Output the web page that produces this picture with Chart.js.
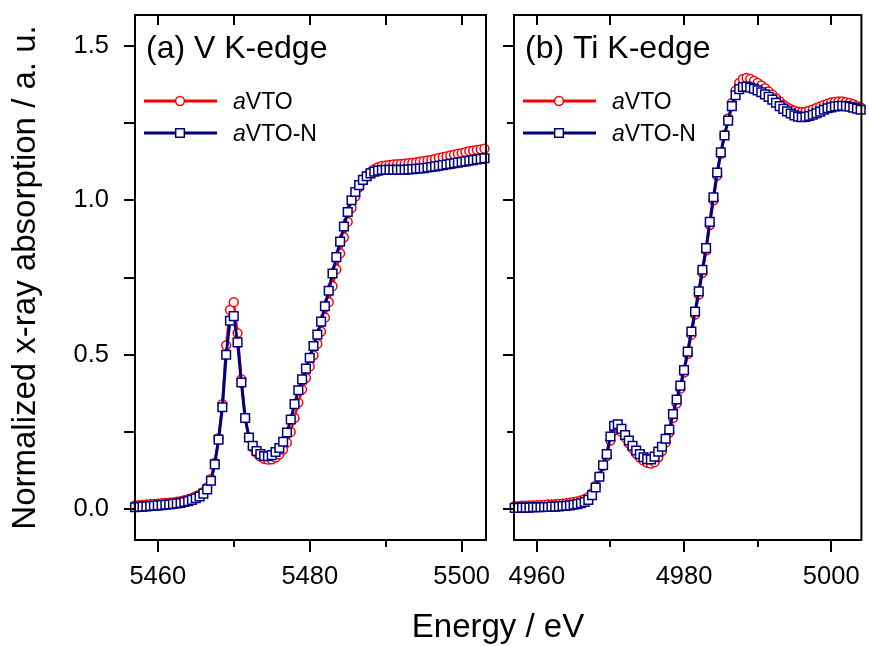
<!DOCTYPE html>
<html>
<head>
<meta charset="utf-8">
<title>XANES V and Ti K-edge</title>
<script src="https://cdn.jsdelivr.net/npm/chart.js@4/dist/chart.umd.min.js"></script>
<style>
  html, body { margin: 0; padding: 0; background: #fff; }
  #wrap { position: relative; width: 869px; height: 646px; overflow: hidden; }
  canvas { position: absolute; top: 0; }
  #cv { left: 0; }
  #ct { left: 500px; }
  #xlabel {
    position: absolute; left: 498px; top: 609px; transform: translateX(-50%);
    font: 33px 'Liberation Sans', Arial, Helvetica, sans-serif; line-height: 33px;
    white-space: nowrap; color: #000;
  }
</style>
</head>
<body>
<div id="wrap">
  <canvas id="cv" width="500" height="646"></canvas>
  <canvas id="ct" width="369" height="646"></canvas>
  <div id="xlabel">Energy / eV</div>
</div>
<script>
// ---- V K-edge (panel a) ----
const vEnergy = [
  5457, 5457.5, 5458, 5458.5, 5459, 5459.5, 5460, 5460.5, 5461, 5461.5,
  5462, 5462.5, 5463, 5463.5, 5464, 5464.5, 5465, 5465.5, 5466, 5466.5,
  5467, 5467.5, 5468, 5468.5, 5469, 5469.5, 5470, 5470.5, 5471, 5471.5,
  5472, 5472.5, 5473, 5473.5, 5474, 5474.5, 5475, 5475.5, 5476, 5476.5,
  5477, 5477.5, 5478, 5478.5, 5479, 5479.5, 5480, 5480.5, 5481, 5481.5,
  5482, 5482.5, 5483, 5483.5, 5484, 5484.5, 5485, 5485.5, 5486, 5486.5,
  5487, 5487.5, 5488, 5488.5, 5489, 5489.5, 5490, 5490.5, 5491, 5491.5,
  5492, 5492.5, 5493, 5493.5, 5494, 5494.5, 5495, 5495.5, 5496, 5496.5,
  5497, 5497.5, 5498, 5498.5, 5499, 5499.5, 5500, 5500.5, 5501, 5501.5,
  5502, 5502.5, 5503
];
const vAVTO = [
  0.012, 0.013, 0.014, 0.015, 0.016, 0.017, 0.018, 0.019, 0.020, 0.021,
  0.022, 0.024, 0.026, 0.029, 0.032, 0.036, 0.041, 0.047, 0.056, 0.070,
  0.098, 0.150, 0.230, 0.340, 0.530, 0.645, 0.670, 0.570, 0.420, 0.295,
  0.232, 0.200, 0.182, 0.170, 0.163, 0.160, 0.161, 0.167, 0.177, 0.193,
  0.215, 0.250, 0.295, 0.345, 0.388, 0.425, 0.462, 0.498, 0.535, 0.575,
  0.620, 0.670, 0.722, 0.776, 0.828, 0.880, 0.930, 0.975, 1.012, 1.042,
  1.064, 1.080, 1.092, 1.101, 1.107, 1.111, 1.113, 1.115, 1.116, 1.117,
  1.118, 1.119, 1.120, 1.121, 1.123, 1.125, 1.127, 1.129, 1.131, 1.134,
  1.137, 1.140, 1.142, 1.145, 1.148, 1.151, 1.153, 1.156, 1.159, 1.161,
  1.163, 1.165, 1.167
];
const vAVTON = [
  0.006, 0.007, 0.008, 0.009, 0.010, 0.011, 0.012, 0.013, 0.014, 0.015,
  0.017, 0.018, 0.020, 0.023, 0.026, 0.030, 0.035, 0.041, 0.050, 0.064,
  0.092, 0.145, 0.225, 0.330, 0.500, 0.610, 0.625, 0.540, 0.410, 0.295,
  0.232, 0.205, 0.188, 0.178, 0.172, 0.171, 0.175, 0.185, 0.198, 0.218,
  0.248, 0.290, 0.340, 0.385, 0.420, 0.455, 0.490, 0.528, 0.565, 0.607,
  0.657, 0.707, 0.763, 0.816, 0.866, 0.915, 0.962, 1.000, 1.027, 1.049,
  1.066, 1.078, 1.087, 1.093, 1.096, 1.098, 1.099, 1.099, 1.099, 1.099,
  1.099, 1.099, 1.100, 1.101, 1.102, 1.103, 1.104, 1.106, 1.108, 1.110,
  1.112, 1.114, 1.116, 1.118, 1.120, 1.122, 1.124, 1.126, 1.128, 1.130,
  1.132, 1.134, 1.136
];

// ---- Ti K-edge (panel b) ----
const tiEnergy = [
  4957, 4957.5, 4958, 4958.5, 4959, 4959.5, 4960, 4960.5, 4961, 4961.5,
  4962, 4962.5, 4963, 4963.5, 4964, 4964.5, 4965, 4965.5, 4966, 4966.5,
  4967, 4967.5, 4968, 4968.5, 4969, 4969.5, 4970, 4970.5, 4971, 4971.5,
  4972, 4972.5, 4973, 4973.5, 4974, 4974.5, 4975, 4975.5, 4976, 4976.5,
  4977, 4977.5, 4978, 4978.5, 4979, 4979.5, 4980, 4980.5, 4981, 4981.5,
  4982, 4982.5, 4983, 4983.5, 4984, 4984.5, 4985, 4985.5, 4986, 4986.5,
  4987, 4987.5, 4988, 4988.5, 4989, 4989.5, 4990, 4990.5, 4991, 4991.5,
  4992, 4992.5, 4993, 4993.5, 4994, 4994.5, 4995, 4995.5, 4996, 4996.5,
  4997, 4997.5, 4998, 4998.5, 4999, 4999.5, 5000, 5000.5, 5001, 5001.5,
  5002, 5002.5, 5003, 5003.5, 5004
];
const tiAVTO = [
  0.010, 0.010, 0.011, 0.011, 0.012, 0.012, 0.013, 0.013, 0.014, 0.015,
  0.015, 0.016, 0.017, 0.018, 0.019, 0.021, 0.023, 0.025, 0.028, 0.032,
  0.039, 0.052, 0.075, 0.106, 0.140, 0.172, 0.222, 0.255, 0.262, 0.250,
  0.232, 0.213, 0.196, 0.180, 0.167, 0.157, 0.150, 0.147, 0.152, 0.168,
  0.188, 0.215, 0.248, 0.295, 0.342, 0.390, 0.442, 0.502, 0.565, 0.630,
  0.695, 0.765, 0.838, 0.920, 1.000, 1.080, 1.150, 1.212, 1.265, 1.315,
  1.355, 1.380, 1.393, 1.396, 1.393, 1.387, 1.380, 1.372, 1.363, 1.353,
  1.342, 1.331, 1.320, 1.310, 1.302, 1.295, 1.290, 1.287, 1.286, 1.287,
  1.290, 1.294, 1.299, 1.304, 1.309, 1.313, 1.317, 1.319, 1.320, 1.320,
  1.318, 1.315, 1.311, 1.306, 1.301
];
const tiAVTON = [
  0.004, 0.004, 0.005, 0.005, 0.005, 0.006, 0.006, 0.006, 0.007, 0.007,
  0.008, 0.008, 0.009, 0.010, 0.011, 0.012, 0.014, 0.016, 0.019, 0.023,
  0.030, 0.045, 0.070, 0.105, 0.142, 0.178, 0.235, 0.270, 0.275, 0.260,
  0.240, 0.222, 0.205, 0.190, 0.178, 0.168, 0.162, 0.161, 0.170, 0.186,
  0.202, 0.228, 0.258, 0.308, 0.355, 0.400, 0.450, 0.510, 0.575, 0.640,
  0.705, 0.775, 0.845, 0.930, 1.010, 1.090, 1.155, 1.210, 1.258, 1.305,
  1.340, 1.360, 1.367, 1.368, 1.365, 1.361, 1.356, 1.350, 1.343, 1.335,
  1.326, 1.316, 1.305, 1.296, 1.288, 1.281, 1.275, 1.271, 1.269, 1.270,
  1.273, 1.277, 1.282, 1.287, 1.293, 1.298, 1.301, 1.304, 1.305, 1.306,
  1.305, 1.303, 1.300, 1.297, 1.293
];

const seriesNames = ['aVTO', 'aVTO-N'];
const panelNames = ['(a) V K-edge', '(b) Ti K-edge'];
const yTitle = 'Normalized x-ray absorption / a. u.';

const FONT = "'Liberation Sans', Arial, Helvetica, sans-serif";
const RED = '#ff0000';
const NAVY = '#000080';

function pairs(xs, ys) { return xs.map((x, i) => ({ x: x, y: ys[i] })); }

function datasets(xs, red, blue) {
  return [
    { label: seriesNames[0], data: pairs(xs, red), borderColor: RED, borderWidth: 2.5,
      pointStyle: 'circle', pointRadius: 4.4, pointBorderWidth: 1.5,
      pointBackgroundColor: '#fff', pointBorderColor: RED, order: 2, clip: false },
    { label: seriesNames[1], data: pairs(xs, blue), borderColor: NAVY, borderWidth: 3,
      pointStyle: 'rect', pointRadius: 6.1, pointBorderWidth: 1.5,
      pointBackgroundColor: '#fff', pointBorderColor: NAVY, order: 1, clip: false }
  ];
}

// minor tick values halfway between the scale's major ticks
function minorValues(scale) {
  const vals = scale.ticks.map(t => t.value);
  if (vals.length < 2) return [];
  const step = vals[1] - vals[0];
  const out = [];
  for (let v = vals[0] - step / 2; v <= scale.max; v += step) if (v >= scale.min) out.push(v);
  return out;
}

// fixed axis band size; label overhang is absorbed by the layout padding instead
function fixedBand(size) {
  return s => {
    if (s.isHorizontal()) s.height = size; else s.width = size;
    s.paddingTop = 0; s.paddingBottom = 0; s.paddingLeft = 0; s.paddingRight = 0;
  };
}

// Box frame with tick marks drawn from the chart's own scales
const framePlugin = {
  id: 'panelFrame',
  afterDraw(chart, args, o) {
    const { ctx, chartArea: a } = chart;
    const xs = chart.scales.x, ys = chart.scales.y;
    ctx.save();
    ctx.strokeStyle = '#000';
    ctx.lineWidth = 2;
    ctx.beginPath();
    const seg = (x1, y1, x2, y2) => { ctx.moveTo(x1, y1); ctx.lineTo(x2, y2); };
    xs.ticks.forEach(t => {
      const p = Math.round(xs.getPixelForValue(t.value));
      seg(p, a.bottom, p, a.bottom + o.bottomMajor);
      seg(p, a.top, p, a.top + o.topLen);
    });
    minorValues(xs).forEach(v => {
      const p = Math.round(xs.getPixelForValue(v));
      seg(p, a.bottom, p, a.bottom + o.bottomMinor);
      seg(p, a.top, p, a.top + o.topLen);
    });
    ys.ticks.forEach(t => {
      const p = Math.round(ys.getPixelForValue(t.value));
      seg(a.left, p, a.left - o.leftMajor, p);
    });
    minorValues(ys).forEach(v => {
      const p = Math.round(ys.getPixelForValue(v));
      seg(a.left, p, a.left - o.leftMinor, p);
    });
    ctx.stroke();
    ctx.strokeRect(a.left, a.top, a.right - a.left, a.bottom - a.top);
    ctx.restore();
  }
};

// Panel caption and in-panel legend (line + marker sample, italic sample prefix)
const captionPlugin = {
  id: 'panelCaption',
  afterDraw(chart, args, o) {
    const { ctx, chartArea: a } = chart;
    ctx.save();
    ctx.fillStyle = '#000';
    ctx.textBaseline = 'alphabetic';
    ctx.textAlign = 'left';
    ctx.font = '32px ' + FONT;
    ctx.fillText(o.text, a.left + 11, a.top + 43);
    chart.data.datasets.forEach((ds, i) => {
      const y = a.top + 86 + i * 32;
      ctx.strokeStyle = ds.borderColor;
      ctx.lineWidth = 3;
      ctx.beginPath();
      ctx.moveTo(a.left + 9, y);
      ctx.lineTo(a.left + 82, y);
      ctx.stroke();
      const mx = a.left + 45;
      ctx.fillStyle = '#fff';
      ctx.strokeStyle = ds.pointBorderColor;
      ctx.lineWidth = ds.pointBorderWidth;
      ctx.beginPath();
      if (ds.pointStyle === 'rect') {
        const h = ds.pointRadius * Math.SQRT1_2;
        ctx.rect(mx - h, y - h, 2 * h, 2 * h);
      } else {
        ctx.arc(mx, y, ds.pointRadius, 0, Math.PI * 2);
      }
      ctx.fill();
      ctx.stroke();
      ctx.fillStyle = '#000';
      const pre = ds.label.slice(0, 1), rest = ds.label.slice(1);
      ctx.font = 'italic 23px ' + FONT;
      ctx.fillText(pre, a.left + 98, y + 8);
      const w = ctx.measureText(pre).width;
      ctx.font = '23px ' + FONT;
      ctx.fillText(rest, a.left + 98 + w, y + 8);
    });
    ctx.restore();
  }
};

function makePanel(canvasId, xs, red, blue, opts) {
  return new Chart(document.getElementById(canvasId), {
    type: 'line',
    data: { datasets: datasets(xs, red, blue) },
    plugins: [framePlugin, captionPlugin],
    options: {
      responsive: false,
      animation: false,
      devicePixelRatio: 1,
      layout: { padding: { left: 0, top: 15, right: opts.padRight, bottom: 0 } },
      elements: { line: { tension: 0 } },
      plugins: {
        legend: { display: false },
        tooltip: { enabled: false },
        panelFrame: { bottomMajor: 12, bottomMinor: 7, topLen: 10,
                      leftMajor: 11, leftMinor: opts.leftMinor },
        panelCaption: { text: opts.caption }
      },
      scales: {
        x: {
          type: 'linear', min: opts.xmin, max: opts.xmax,
          afterFit: fixedBand(106),
          grid: { display: true, drawOnChartArea: false, drawTicks: false },
          border: { display: false },
          ticks: { stepSize: 20, includeBounds: false, padding: 22, color: '#000',
                   font: { family: FONT, size: 25.5 }, maxRotation: 0,
                   callback: v => String(Math.round(v)) }
        },
        y: {
          type: 'linear', min: -0.1, max: 1.6,
          afterFit: fixedBand(opts.yWidth),
          grid: { display: true, drawOnChartArea: false, drawTicks: false },
          border: { display: false },
          ticks: { display: opts.yLabels, stepSize: 0.5, includeBounds: false, padding: 26,
                   color: '#000', font: { family: FONT, size: 25.5 },
                   callback: v => Number(v).toFixed(1) },
          title: { display: opts.yLabels, text: yTitle, color: '#000',
                   font: { family: FONT, size: 33 }, padding: { top: 6, bottom: 0 } }
        }
      }
    }
  });
}

makePanel('cv', vEnergy, vAVTO, vAVTON, {
  xmin: 5457, xmax: 5503.2, yWidth: 135, padRight: 14, yLabels: true,
  leftMinor: 11, caption: panelNames[0]
});
makePanel('ct', tiEnergy, tiAVTO, tiAVTON, {
  xmin: 4956.9, xmax: 5004.1, yWidth: 14, padRight: 6, yLabels: false,
  leftMinor: 7, caption: panelNames[1]
});
</script>
</body>
</html>
